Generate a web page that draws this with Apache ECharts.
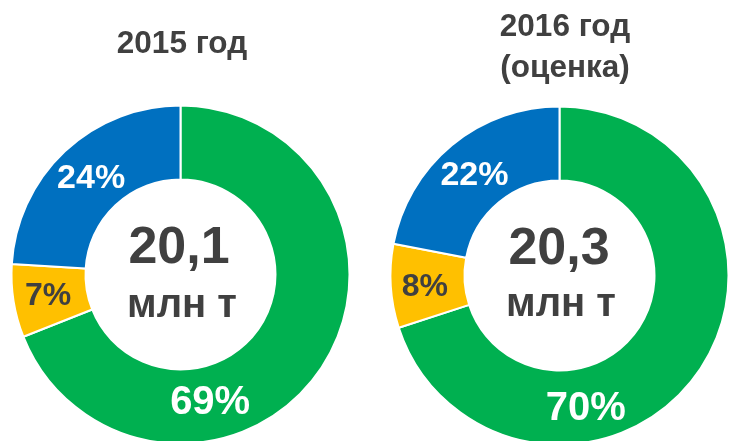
<!DOCTYPE html>
<html>
<head>
<meta charset="utf-8">
<script src="https://cdn.jsdelivr.net/npm/echarts@6/dist/echarts.min.js"></script>
<style>
  html, body { margin: 0; padding: 0; background: #fff; }
  #chart { width: 733px; height: 441px; }
</style>
</head>
<body>
<div id="chart"></div>
<script>
// данные
const segmentNames = ['Группа 1', 'Группа 2', 'Группа 3'];
const share2015 = [69, 7, 24];
const share2016 = [70, 8, 22];
const totals = ['20,1', '20,3'];
const unitLabel = 'млн т';
const yearTitles = ['2015 год', '2016 год\n(оценка)'];

// оформление
const colors = ['#00B050', '#FFC000', '#0070C0'];
const labelColors = ['#fff', '#404040', '#fff'];
const labelSizes = [[40, 32, 34], [40, 32, 34]];
const labelOffsets = [
  [[-82, 53], [1, 1], [3, 3]],
  [[-83, 54], [0, 3], [1, 4]]
];
const FONT = '"Liberation Sans", Arial, sans-serif';
const TEXT = '#404040';

const chart = echarts.init(document.getElementById('chart'));

const makeData = (values, k) => values.map((v, i) => ({
  name: segmentNames[i],
  value: v,
  itemStyle: { color: colors[i] },
  label: {
    color: labelColors[i],
    fontSize: labelSizes[k][i],
    offset: labelOffsets[k][i]
  }
}));

const makeSeries = (values, k, center) => ({
  type: 'pie',
  center: center,
  radius: [95, 169],
  startAngle: 90,
  clockwise: true,
  silent: true,
  avoidLabelOverlap: false,
  itemStyle: { borderColor: '#fff', borderWidth: 2 },
  label: {
    show: true,
    position: 'inside',
    formatter: '{c}%',
    fontFamily: FONT,
    fontWeight: 'bold'
  },
  labelLine: { show: false },
  data: makeData(values, k)
});

const titleText = (text, x, y, size, lh) => ({
  text: text,
  left: x,
  top: y,
  textAlign: 'center',
  padding: 0,
  textStyle: {
    color: TEXT,
    fontFamily: FONT,
    fontWeight: 'bold',
    fontSize: size,
    lineHeight: lh
  }
});

chart.setOption({
  animation: false,
  title: [
    titleText(yearTitles[0], 182, 26, 31.5, 36),
    titleText(yearTitles[1], 565, 7, 31.5, 41),
    titleText(totals[0], 179, 219, 52, 60),
    titleText(unitLabel, 182, 286, 40, 40),
    titleText(totals[1], 559, 220, 52, 60),
    titleText(unitLabel, 561, 285, 40, 40)
  ],
  series: [
    makeSeries(share2015, 0, [180.5, 274.5]),
    makeSeries(share2016, 1, [559.5, 275.5])
  ]
});
</script>
</body>
</html>
